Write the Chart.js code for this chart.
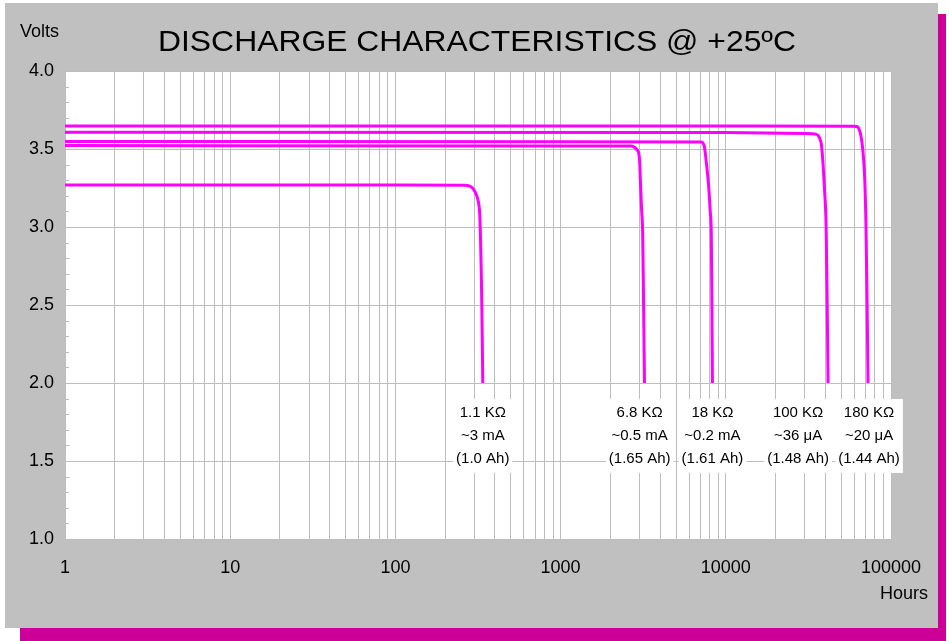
<!DOCTYPE html>
<html>
<head>
<meta charset="utf-8">
<script src="https://cdn.jsdelivr.net/npm/chart.js@4.4.1/dist/chart.umd.min.js"></script>
<style>
  html, body { margin: 0; padding: 0; background: #fff; }
  #wrap { width: 949px; height: 641px; }
</style>
</head>
<body>
<div id="wrap"><canvas id="discharge" width="949" height="641"></canvas></div>
<script>
// values (hours, volts)
const loads = ['1.1 K\u03A9', '6.8 K\u03A9', '18 K\u03A9', '100 K\u03A9', '180 K\u03A9'];
const currents = ['~3 mA', '~0.5 mA', '~0.2 mA', '~36 \u03BCA', '~20 \u03BCA'];
const capacities = ['(1.0 Ah)', '(1.65 Ah)', '(1.61 Ah)', '(1.48 Ah)', '(1.44 Ah)'];

const hours1k1 = [1, 100, 262, 282, 296, 308, 318, 324, 328, 332, 335, 338];
const volts1k1 = [3.27, 3.27, 3.268, 3.262, 3.245, 3.21, 3.16, 3.08, 2.9, 2.64, 2.35, 2.0];

const hours6k8 = [1, 1000, 2650, 2790, 2900, 2970, 3010, 3040, 3090, 3140, 3180, 3220];
const volts6k8 = [3.522, 3.52, 3.519, 3.512, 3.495, 3.474, 3.42, 3.3, 3.12, 2.95, 2.5, 2.0];

const hours18k = [1, 1000, 7100, 7300, 7420, 7500, 7650, 7850, 8050, 8170, 8240, 8300];
const volts18k = [3.548, 3.547, 3.545, 3.535, 3.515, 3.48, 3.4, 3.28, 3.1, 2.95, 2.5, 2.0];

const hours100k = [1, 10000, 30000, 35400, 36300, 37100, 37900, 38800, 39700, 40500, 41100, 41600];
const volts100k = [3.608, 3.605, 3.60, 3.594, 3.585, 3.565, 3.53, 3.4, 3.22, 3.0, 2.5, 2.0];

const hours180k = [1, 10000, 60000, 62800, 64200, 65600, 66800, 68200, 69400, 70600, 71700, 72600];
const volts180k = [3.647, 3.647, 3.646, 3.642, 3.625, 3.59, 3.537, 3.44, 3.3, 3.0, 2.5, 2.0];

const xTickValues = [1, 10, 100, 1000, 10000, 100000];
const yTickValues = [1.0, 1.5, 2.0, 2.5, 3.0, 3.5, 4.0];

const toPoints = (xs, ys) => xs.map((x, i) => ({ x: x, y: ys[i] }));
const seriesHours = [hours1k1, hours6k8, hours18k, hours100k, hours180k];
const seriesVolts = [volts1k1, volts6k8, volts18k, volts100k, volts180k];

// where each load label sits (hours), and the volt level of its first line
const labelAnchorHours = [338, 3010, 8300, 27400, 73600];
const labelTopVolt = 1.808;

const GRID = '#bdbdbd';
const FONT = '"Liberation Sans", Arial, sans-serif';

const framePlugin = {
    id: 'frame',
    beforeDraw(chart) {
        const c = chart.ctx, a = chart.chartArea;
        c.save();
        c.fillStyle = '#ffffff';
        c.fillRect(0, 0, chart.width, chart.height);
        c.fillStyle = '#cc0099';
        c.fillRect(20, 14, 926, 627);
        c.fillStyle = '#c0c0c0';
        c.fillRect(5, 3, 933, 625);
        c.fillStyle = '#ffffff';
        c.fillRect(a.left, a.top, a.right - a.left, a.bottom - a.top);
        c.restore();
    },
    beforeDatasetsDraw(chart) {
        // small minor ticks on the inside of the volts axis
        const c = chart.ctx, a = chart.chartArea, y = chart.scales.y;
        c.save();
        c.strokeStyle = GRID;
        c.lineWidth = 1;
        for (let v = 1.1; v < 4.0; v += 0.1) {
            const py = Math.round(y.getPixelForValue(v)) + 0.5;
            c.beginPath();
            c.moveTo(a.left, py);
            c.lineTo(a.left + 4, py);
            c.stroke();
        }
        c.restore();
    },
    afterDraw(chart) {
        const c = chart.ctx;
        const xs = chart.scales.x, ys = chart.scales.y;
        c.save();
        c.fillStyle = '#000';
        c.textBaseline = 'middle';

        // title
        c.font = '29px ' + FONT;
        c.textAlign = 'center';
        const title = 'DISCHARGE CHARACTERISTICS @ +25\u00BAC';
        const tw = c.measureText(title).width;
        c.save();
        c.translate(477, 43);
        c.scale(638 / tw, 1);
        c.fillText(title, 0, 0);
        c.restore();

        c.font = '18px ' + FONT;
        c.textAlign = 'left';
        c.fillText('Volts', 20, 32);
        c.textAlign = 'right';
        c.fillText('Hours', 928, 594);

        // load labels
        c.font = '15px ' + FONT;
        c.textAlign = 'center';
        const lineGap = 23;
        loads.forEach((name, i) => {
            const lines = [name, currents[i], capacities[i]];
            const px = xs.getPixelForValue(labelAnchorHours[i]);
            const py = ys.getPixelForValue(labelTopVolt);
            const w = Math.max(...lines.map(t => c.measureText(t).width)) + 6;
            c.fillStyle = '#ffffff';
            c.fillRect(px - w / 2, py - 14, w, lineGap * 2 + 28);
            c.fillStyle = '#000';
            lines.forEach((t, k) => c.fillText(t, px, py + k * lineGap));
        });
        c.restore();
    }
};

const ctx = document.getElementById('discharge').getContext('2d');
const dischargeChart = new Chart(ctx, {
    type: 'line',
    data: {
        datasets: loads.map((name, i) => ({
            label: name,
            data: toPoints(seriesHours[i], seriesVolts[i]),
            borderColor: '#ff00ff',
            borderWidth: 3,
            pointRadius: 0,
            cubicInterpolationMode: 'monotone',
            fill: false
        }))
    },
    options: {
        responsive: false,
        animation: false,
        devicePixelRatio: 1,
        layout: { padding: { left: 5, right: 58, top: 71, bottom: 42 } },
        plugins: {
            legend: { display: false },
            title: { display: false },
            tooltip: { enabled: false }
        },
        scales: {
            x: {
                type: 'logarithmic',
                min: 1,
                max: 100000,
                afterBuildTicks(scale) {
                    const t = [];
                    for (let e = 0; e < 5; e++) {
                        for (let m = 1; m < 10; m++) t.push({ value: m * Math.pow(10, e) });
                    }
                    t.push({ value: 100000 });
                    scale.ticks = t;
                },
                afterFit(scale) { scale.height = 60; },
                grid: { color: GRID, lineWidth: 1, drawTicks: false },
                border: { display: false },
                ticks: {
                    autoSkip: false,
                    maxRotation: 0,
                    padding: 18,
                    color: '#000',
                    font: { family: FONT, size: 18 },
                    callback: (v) => xTickValues.includes(v) ? String(v) : ''
                }
            },
            y: {
                min: 1,
                max: 4,
                afterBuildTicks(scale) {
                    scale.ticks = yTickValues.map(v => ({ value: v }));
                },
                afterFit(scale) { scale.width = 60; },
                grid: { color: GRID, lineWidth: 1, drawTicks: false },
                border: { display: false },
                ticks: {
                    padding: 11,
                    color: '#000',
                    font: { family: FONT, size: 18 },
                    callback: (v) => Number(v).toFixed(1)
                }
            }
        }
    },
    plugins: [framePlugin]
});
</script>
</body>
</html>
